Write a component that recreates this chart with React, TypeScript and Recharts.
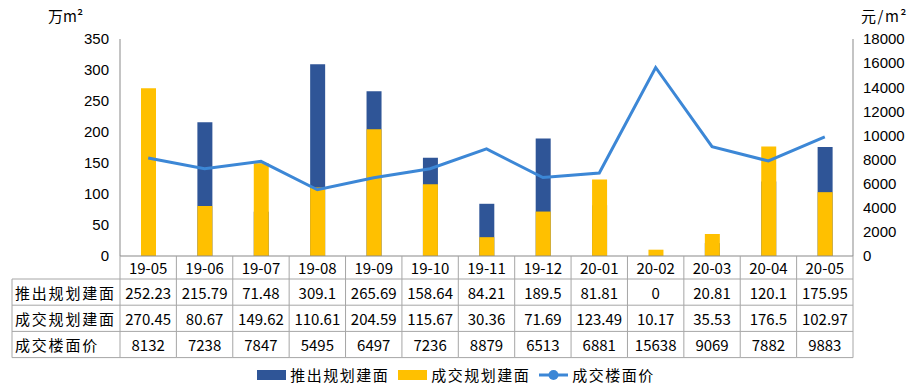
import React from "react";
import {
  ComposedChart,
  Bar,
  Line,
  XAxis,
  YAxis,
  Legend,
} from "recharts";

const months = ["19-05", "19-06", "19-07", "19-08", "19-09", "19-10", "19-11", "19-12", "20-01", "20-02", "20-03", "20-04", "20-05"];
const launched = [252.23, 215.79, 71.48, 309.1, 265.69, 158.64, 84.21, 189.5, 81.81, 0, 20.81, 120.1, 175.95];
const traded = [270.45, 80.67, 149.62, 110.61, 204.59, 115.67, 30.36, 71.69, 123.49, 10.17, 35.53, 176.5, 102.97];
const price = [8132, 7238, 7847, 5495, 6497, 7236, 8879, 6513, 6881, 15638, 9069, 7882, 9883];
const leftTicks = [0, 50, 100, 150, 200, 250, 300, 350];
const rightTicks = [0, 2000, 4000, 6000, 8000, 10000, 12000, 14000, 16000, 18000];

const rowLabels = ["推出规划建面", "成交规划建面", "成交楼面价"];
const rows = [launched, traded, price];

const W = 917;
const H = 391;
const LEFT_W = 120;
const RIGHT_W = 64;
const TOP = 39;
const AXIS_H = 102;
const LEGEND_H = 33;
const colW = (W - LEFT_W - RIGHT_W) / months.length;
const HEAD_H = 23;
const ROW_H = 26.2;

const BLUE = "#2F5597";
const YELLOW = "#FFC000";
const LINE = "#3C87D6";
const GRIDC = "#a6a6a6";
const CJK = '"Noto Sans CJK SC", sans-serif';

const data = months.map((m, i) => ({
  month: m,
  launched: launched[i],
  traded: traded[i],
  price: price[i],
}));

function TableTick(props: any) {
  const { y, payload, index } = props;
  const cx = payload.coordinate;
  const x0 = cx - colW / 2;
  const x1 = cx + colW / 2;
  const last = index === months.length - 1;
  const bottom = y + HEAD_H + ROW_H * 3;
  const lines = [] as React.ReactNode[];
  lines.push(<line key="vl" x1={x0} x2={x0} y1={y} y2={bottom} stroke={GRIDC} />);
  if (last) lines.push(<line key="vr" x1={x1} x2={x1} y1={y} y2={bottom} stroke={GRIDC} />);
  for (let r = 0; r <= 3; r++) {
    const yy = y + HEAD_H + ROW_H * r;
    lines.push(<line key={"h" + r} x1={x0} x2={x1} y1={yy} y2={yy} stroke={GRIDC} />);
  }
  const left = 12;
  return (
    <g>
      {lines}
      <text x={cx} y={y + HEAD_H / 2} textAnchor="middle" dominantBaseline="central" fontFamily={CJK} fontSize={15} fill="#000">
        {payload.value}
      </text>
      {rows.map((vals, r) => (
        <text key={r} x={cx} y={y + HEAD_H + ROW_H * r + ROW_H / 2} textAnchor="middle" dominantBaseline="central" fontFamily={CJK} fontSize={15} fill="#000">
          {String(vals[index])}
        </text>
      ))}
      {index === 0 && (
        <g>
          <line x1={left} x2={left} y1={y + HEAD_H} y2={bottom} stroke={GRIDC} />
          {[0, 1, 2, 3].map((r) => (
            <line key={r} x1={left} x2={x0} y1={y + HEAD_H + ROW_H * r} y2={y + HEAD_H + ROW_H * r} stroke={GRIDC} />
          ))}
          {rowLabels.map((t, r) => (
            <text key={t} x={left + 3} y={y + HEAD_H + ROW_H * r + ROW_H / 2} dominantBaseline="central" fontFamily={CJK} fontSize={15} letterSpacing={1.8} fill="#000">
              {t}
            </text>
          ))}
        </g>
      )}
    </g>
  );
}

function LegendBox() {
  const items = [
    { name: "推出规划建面", kind: "bar", color: BLUE },
    { name: "成交规划建面", kind: "bar", color: YELLOW },
    { name: "成交楼面价", kind: "line", color: LINE },
  ];
  return (
    <div style={{ display: "flex", justifyContent: "center", alignItems: "center", height: LEGEND_H, paddingLeft: 4, fontFamily: CJK, fontSize: 15, letterSpacing: 1.5, color: "#000" }}>
      {items.map((it) => (
        <div key={it.name} style={{ display: "flex", alignItems: "center", marginRight: 9 }}>
          {it.kind === "bar" ? (
            <span style={{ display: "inline-block", width: 29, height: 10, background: it.color, marginRight: 4 }} />
          ) : (
            <svg width={29} height={12} style={{ marginRight: 4 }}>
              <line x1={0} x2={29} y1={6} y2={6} stroke={it.color} strokeWidth={3} />
              <circle cx={14.5} cy={6} r={5} fill={it.color} />
            </svg>
          )}
          <span>{it.name}</span>
        </div>
      ))}
    </div>
  );
}

export default function App() {
  return (
    <div style={{ position: "absolute", left: 0, top: 0, width: W, height: H, background: "#fff" }}>
      <ComposedChart width={W} height={H} data={data} margin={{ top: TOP, right: 0, bottom: 0, left: 0 }} barSize={15} barGap={-15}>
        <XAxis
          dataKey="month"
          xAxisId={0}
          height={AXIS_H}
          axisLine={{ stroke: "#898989" }}
          tickLine={false}
          tickSize={0}
          tickMargin={0}
          interval={0}
          tick={TableTick}
        />
        <YAxis
          yAxisId="left"
          width={LEFT_W}
          domain={[0, 350]}
          ticks={leftTicks}
          axisLine={{ stroke: "#898989" }}
          tickLine={false}
          tickSize={5}
          tickMargin={6}
          tick={{ fill: "#000", fontSize: 15, fontFamily: "Liberation Sans, Arial" }}
          label={{ value: "万m²", position: "insideTopLeft", dx: 43, dy: -33, fill: "#000", fontSize: 15, fontFamily: CJK }}
        />
        <YAxis
          yAxisId="right"
          orientation="right"
          width={RIGHT_W}
          domain={[0, 18000]}
          ticks={rightTicks}
          axisLine={{ stroke: "#898989" }}
          tickLine={false}
          tickSize={4}
          tickMargin={6}
          tick={{ fill: "#000", fontSize: 15, fontFamily: "Liberation Sans, Arial" }}
          label={{ value: "元/m²", position: "insideTopRight", dx: -4, dy: -33, fill: "#000", fontSize: 15, fontFamily: CJK, letterSpacing: 1.5 }}
        />
        <Bar yAxisId="left" dataKey="launched" name="推出规划建面" fill={BLUE} isAnimationActive={false} />
        <Bar yAxisId="left" dataKey="traded" name="成交规划建面" fill={YELLOW} isAnimationActive={false} />
        <Line yAxisId="right" type="linear" dataKey="price" name="成交楼面价" stroke={LINE} strokeWidth={3} dot={false} isAnimationActive={false} />
        <Legend verticalAlign="bottom" height={LEGEND_H} content={() => <LegendBox />} />
      </ComposedChart>
    </div>
  );
}
